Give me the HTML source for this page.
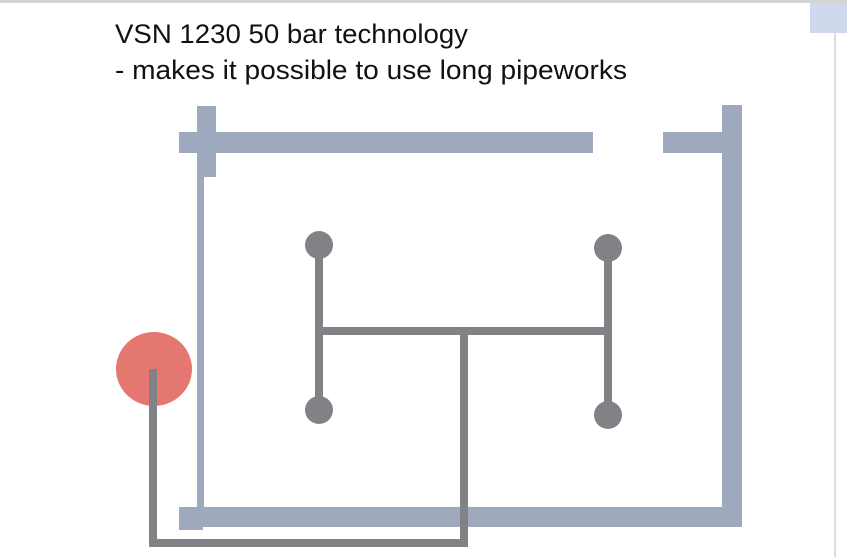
<!DOCTYPE html>
<html><head><meta charset="utf-8"><style>
html,body{margin:0;padding:0;background:#fff;}
svg{display:block;}
</style></head><body>
<svg width="847" height="557" viewBox="0 0 847 557" xmlns="http://www.w3.org/2000/svg">
<rect x="0" y="0" width="847" height="3" fill="#d4d4d4"/>
<rect x="834" y="3" width="2" height="554" fill="#dcdcdc"/>
<rect x="810" y="3" width="37" height="30" fill="#cfd8ec"/>
<g font-family="Liberation Sans, sans-serif" font-size="27" fill="#111">
<text x="115" y="43" textLength="353" lengthAdjust="spacingAndGlyphs">VSN 1230 50 bar technology</text>
<text x="115" y="79" textLength="512" lengthAdjust="spacingAndGlyphs">- makes it possible to use long pipeworks</text>
</g>
<g fill="#9ea9bd">
<rect x="179" y="132" width="414" height="21"/>
<rect x="663" y="132" width="70" height="21"/>
<rect x="722" y="105" width="20" height="422"/>
<rect x="197" y="106" width="19" height="71"/>
<rect x="197" y="176" width="7" height="340"/>
<rect x="179" y="507" width="563" height="20"/>
<rect x="179" y="507" width="24" height="23"/>
</g>
<ellipse cx="154" cy="369" rx="38" ry="37" fill="#e57771"/>
<g stroke="#808285" stroke-width="8" fill="none">
<line x1="319" y1="245" x2="319" y2="410"/>
<line x1="608" y1="248" x2="608" y2="415"/>
<line x1="315" y1="331" x2="612" y2="331"/>
<polyline points="464,331 464,543 153,543 153,369"/>
</g>
<g fill="#808285">
<circle cx="319" cy="245" r="14"/>
<circle cx="608" cy="248" r="14"/>
<circle cx="319" cy="410" r="14"/>
<circle cx="608" cy="415" r="14"/>
</g>
</svg>
</body></html>
